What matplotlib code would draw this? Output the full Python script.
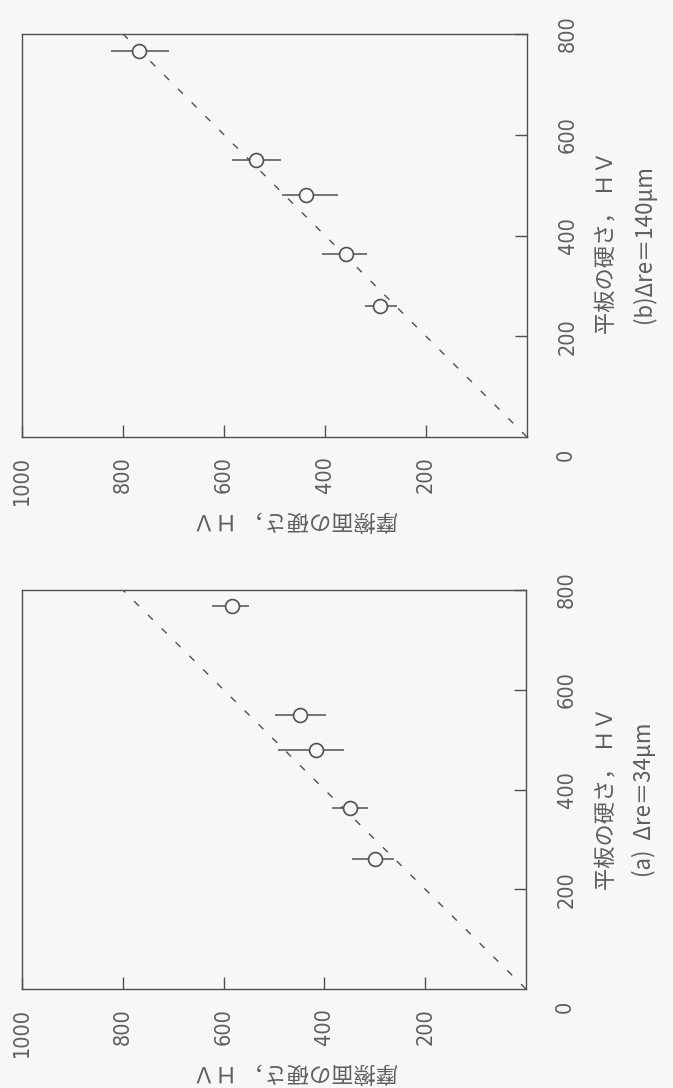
import matplotlib
matplotlib.use("Agg")
import matplotlib.pyplot as plt

# Plate hardness (HV) of the five test plates
plate_hv = [260, 363, 480, 550, 767]

# Friction-surface hardness (HV) with scatter, (a) Δre = 34 μm
friction_a = [300, 349, 417, 448, 584]
friction_a_minus = [39, 36, 56, 51, 35]
friction_a_plus = [46, 36, 76, 50, 40]

# Friction-surface hardness (HV) with scatter, (b) Δre = 140 μm
friction_b = [292, 358, 438, 537, 768]
friction_b_minus = [35, 41, 64, 49, 60]
friction_b_plus = [29, 47, 48, 48, 56]

friction_ticks = [1000, 800, 600, 400, 200]
plate_ticks = [200, 400, 600, 800]
equal_line = [0, 800]

xlabel_text = "平板の硬さ， ＨＶ"
ylabel_text = "摩擦面の硬さ， ＨＶ"
caption_a = "(a)  Δre＝34μm"
caption_b = "(b)Δre＝140μm"

W, H, DPI = 673, 1088, 100
BG = "#f7f7f7"
INK = "#505050"
TXT = "#5e5e5e"

cjk = ["Noto Sans CJK JP", "DejaVu Sans"]
digit_font = dict(family="DejaVu Sans", stretch="condensed", weight="light",
                  fontsize=15.5, color=TXT)

fig = plt.figure(figsize=(W / DPI, H / DPI), dpi=DPI, facecolor=BG)


def px_box(left, top, right, bottom):
    return [left / W, 1 - bottom / H, (right - left) / W, (bottom - top) / H]


def fig_pt(x, y):
    return x / W, 1 - y / H


panels = [
    dict(box=(22, 590, 526, 989), fric=friction_a, lo=friction_a_minus,
         hi=friction_a_plus, caption=caption_a),
    dict(box=(22, 34, 527, 437), fric=friction_b, lo=friction_b_minus,
         hi=friction_b_plus, caption=caption_b),
]

for p in panels:
    left, top, right, bottom = p["box"]
    ax = fig.add_axes(px_box(left, top, right, bottom))
    ax.set_facecolor(BG)
    # friction hardness runs horizontally (1000 on the left), plate hardness upward
    ax.set_xlim(1000, 0)
    ax.set_ylim(0, 800)

    ax.plot(equal_line, equal_line, linestyle=(0, (5, 9)), color=INK, lw=1.0)
    ax.errorbar(p["fric"], plate_hv, xerr=[p["lo"], p["hi"]], fmt="o",
                ms=10, mfc=BG, mec=INK, mew=1.2, ecolor=INK,
                elinewidth=1.1, capsize=0, zorder=3)

    ax.xaxis.set_ticks_position("bottom")
    ax.set_xticks(friction_ticks)
    ax.set_xticklabels([str(v) for v in friction_ticks], rotation=90,
                       va="top", ha="center", **digit_font)
    ax.yaxis.tick_right()
    ax.set_yticks(plate_ticks)
    ax.set_yticklabels([str(v) for v in plate_ticks], rotation=90,
                       ha="left", va="center", **digit_font)
    ax.tick_params(direction="in", length=8.6, width=1.0, color=INK)
    ax.tick_params(axis="x", pad=14)
    ax.tick_params(axis="y", pad=22)
    for s in ax.spines.values():
        s.set_color(INK)
        s.set_linewidth(1.0)

    # shared origin label at the corner
    fig.text(*fig_pt(right + 39, bottom + 18), "0", rotation=90,
             ha="center", va="center", **digit_font)
    fig.text(*fig_pt(606, top + 208), xlabel_text, rotation=90,
             ha="center", va="center", family=cjk, fontsize=16, color=TXT)
    fig.text(*fig_pt(644, top + 210), p["caption"], rotation=90,
             ha="center", va="center", family=cjk, fontsize=16, color=TXT)
    fig.text(*fig_pt(295, bottom + 83), ylabel_text, rotation=180,
             ha="center", va="center", family=cjk, fontsize=16, color=TXT)

fig.savefig("out.png", dpi=DPI, facecolor=BG)
